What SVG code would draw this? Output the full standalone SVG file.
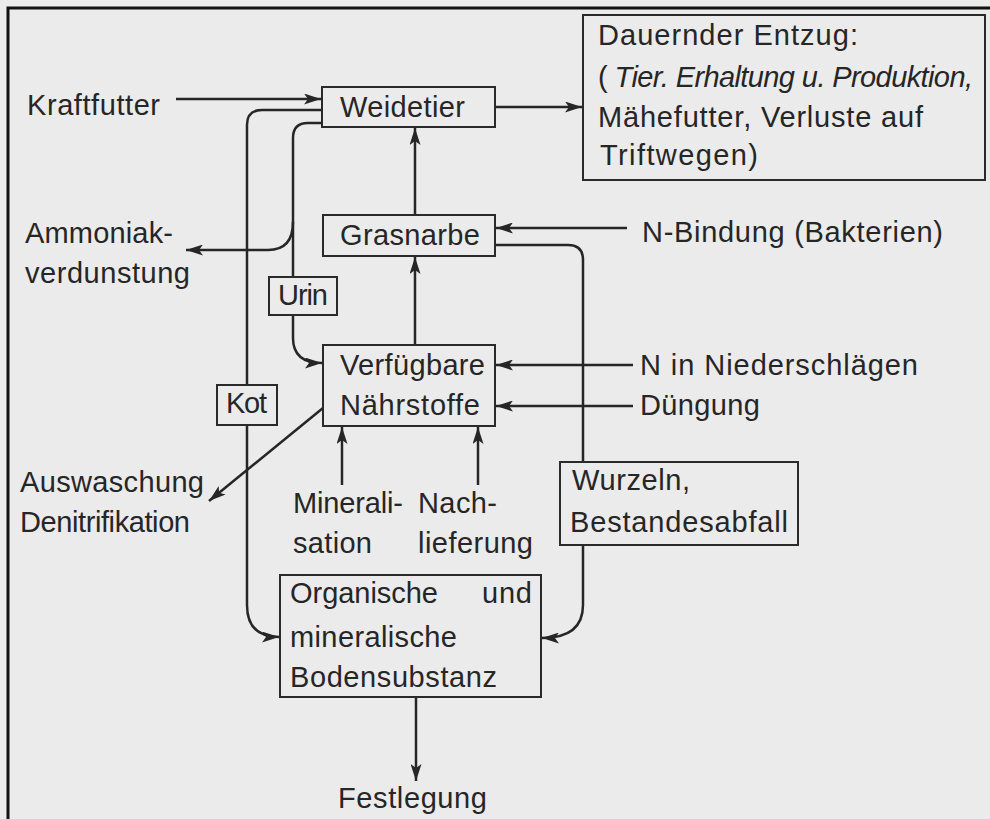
<svg xmlns="http://www.w3.org/2000/svg" width="990" height="819" viewBox="0 0 990 819">
<style>
text{font-family:"Liberation Sans",Arial,sans-serif;font-size:29px;fill:#262626}
.box{fill:#ebebeb;stroke:#2a2a2a;stroke-width:2}
.ln{fill:none;stroke:#262626;stroke-width:2.5}
.ar{marker-end:url(#ah)}
</style>
<defs>
<marker id="ah" viewBox="0 0 17 11" refX="17" refY="5.5" markerWidth="17" markerHeight="11" orient="auto" markerUnits="userSpaceOnUse">
<path d="M0,0 L17,5.5 L0,11 L4,5.5 z" fill="#262626"/>
</marker>
</defs>
<rect x="0" y="0" width="990" height="819" fill="#ebebeb"/>
<path d="M8,819 V8 H990" fill="none" stroke="#111" stroke-width="3"/>

<g id="connectors">
<path class="ln ar" d="M176,99 H321"/>
<path class="ln ar" d="M495,107 H582"/>
<path class="ln ar" d="M322,110 H262 Q247,110 247,125 V605 Q247,637 279,637"/>
<path class="ln" d="M322,123 H308 Q293,123 293,138 V277"/>
<path class="ln ar" d="M293,222 Q293,250 268,250 H186"/>
<path class="ln ar" d="M293,315 V338 Q293,363 322,363"/>
<path class="ln ar" d="M415,215 V128"/>
<path class="ln ar" d="M415,345 V257"/>
<path class="ln ar" d="M342,485 V427"/>
<path class="ln ar" d="M478,485 V427"/>
<path class="ln ar" d="M323,408 L209,501"/>
<path class="ln ar" d="M627,228 H496"/>
<path class="ln ar" d="M633,365 H496"/>
<path class="ln ar" d="M633,406 H496"/>
<path class="ln" d="M495,245 H568 Q583,245 583,260 V462"/>
<path class="ln ar" d="M583,545 V605 Q583,638 542,638"/>
<path class="ln ar" d="M416,697 V781"/>
</g>

<g id="weidetier">
<rect class="box" x="322" y="87" width="173" height="40"/>
<text x="340" y="117" textLength="125">Weidetier</text>
</g>
<g id="dauernder">
<rect class="box" x="583" y="15" width="402" height="165"/>
<text x="598" y="45" textLength="260">Dauernder Entzug:</text>
<text x="598" y="87" textLength="375">(<tspan font-style="italic"> Tier. Erhaltung u. Produktion,</tspan></text>
<text x="598" y="127" textLength="325">Mähefutter, Verluste auf</text>
<text x="600" y="165" textLength="158">Triftwegen)</text>
</g>
<g id="grasnarbe">
<rect class="box" x="323" y="215" width="172" height="41"/>
<text x="340" y="245" textLength="140">Grasnarbe</text>
</g>
<g id="urin">
<rect class="box" x="269" y="277" width="68" height="38"/>
<text x="278" y="305" textLength="50">Urin</text>
</g>
<g id="kot">
<rect class="box" x="217" y="385" width="60" height="40"/>
<text x="226" y="413" textLength="41">Kot</text>
</g>
<g id="verfuegbare">
<rect class="box" x="323" y="345" width="172" height="81"/>
<text x="340" y="375" textLength="145">Verfügbare</text>
<text x="340" y="415" textLength="140">Nährstoffe</text>
</g>
<g id="wurzeln">
<rect class="box" x="560" y="462" width="238" height="83"/>
<text x="572" y="490" textLength="118">Wurzeln,</text>
<text x="570" y="532" textLength="218">Bestandesabfall</text>
</g>
<g id="organische">
<rect class="box" x="280" y="575" width="261" height="122"/>
<text x="290" y="603" textLength="148">Organische</text>
<text x="482" y="603" textLength="50">und</text>
<text x="290" y="647" textLength="167">mineralische</text>
<text x="290" y="687" textLength="207">Bodensubstanz</text>
</g>
<g id="kraftfutter"><text x="27" y="115" textLength="133">Kraftfutter</text></g>
<g id="ammoniak">
<text x="25" y="243" textLength="148">Ammoniak-</text>
<text x="25" y="283" textLength="165">verdunstung</text>
</g>
<g id="auswaschung">
<text x="20" y="492" textLength="184">Auswaschung</text>
<text x="20" y="532" textLength="170">Denitrifikation</text>
</g>
<g id="mineralisation">
<text x="293" y="513" textLength="110">Minerali-</text>
<text x="293" y="553" textLength="79">sation</text>
</g>
<g id="nachlieferung">
<text x="418" y="513" textLength="79">Nach-</text>
<text x="418" y="553" textLength="115">lieferung</text>
</g>
<g id="nbindung"><text x="642" y="242" textLength="301">N-Bindung (Bakterien)</text></g>
<g id="niederschlag"><text x="640" y="375" textLength="278">N in Niederschlägen</text></g>
<g id="duengung"><text x="640" y="415" textLength="120">Düngung</text></g>
<g id="festlegung"><text x="338" y="808" textLength="149">Festlegung</text></g>
</svg>
